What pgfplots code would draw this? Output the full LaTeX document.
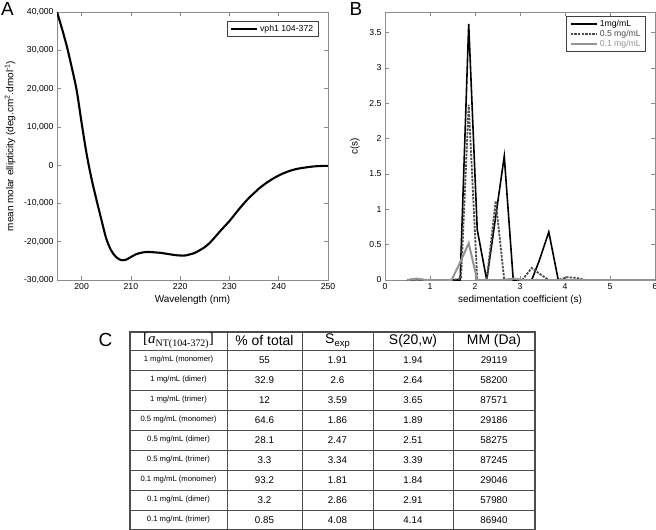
\documentclass[border=0pt]{standalone}
\usepackage{pgfplots}
\pgfplotsset{compat=1.18}
\usepackage{fontspec}
\setmainfont{Liberation Sans}
\newfontfamily\serif{Liberation Serif}

\definecolor{framegray}{gray}{0.55}
\definecolor{darkdash}{gray}{0.3}
\definecolor{lightline}{gray}{0.58}
\definecolor{tabline}{gray}{0.3}

\pgfplotsset{
  myaxis/.style={
    scale only axis, anchor=south west,
    axis line style={framegray, line width=0.7pt},
    every tick/.style={framegray, line width=0.7pt},
    major tick length=4bp,
    tick align=inside,
    ticklabel style={font=\fontsize{8.7}{10}\selectfont},
    label style={font=\fontsize{10}{12}\selectfont},
    /pgf/number format/assume math mode=true,
    legend cell align=left,
    legend style={font=\fontsize{8.7}{10}\selectfont, draw=black!75, line width=0.7pt,
      inner xsep=3bp, inner ysep=1.5bp, row sep=-1.5bp},
    legend image code/.code={\draw[##1] (0bp,0bp) -- (26bp,0bp);},
  }
}

\begin{document}
\begin{tikzpicture}
\path[use as bounding box] (0,0) rectangle (656bp,-530bp);

% ---------------- Panel A ----------------
\begin{axis}[myaxis,
  at={(57bp,-280bp)}, width=271bp, height=268bp,
  xmin=195, xmax=250, ymin=-30000, ymax=40000,
  xtick={200,210,220,230,240,250},
  ytick={-30000,-20000,-10000,0,10000,20000,30000,40000},
  scaled y ticks=false,
  yticklabel style={/pgf/number format/.cd, fixed, 1000 sep={,}},
  xlabel={Wavelength (nm)},
  ylabel={mean molar ellipticity (deg.cm\textsuperscript{2}.dmol\textsuperscript{-1})},
  xlabel style={at={(axis description cs:0.5,-0.075)}, anchor=center},
  ylabel style={at={(axis description cs:-0.173,0.5)}, anchor=center},
  legend style={at={(0.965,0.965)}, anchor=north east},
]
\addplot[black, line width=2.1bp, smooth] table {
x y
195 40000
196 35700
197 31000
198 25500
199 19500
200 11000
201 3000
202 -3500
203 -9000
204 -14200
205 -19200
206 -22300
207 -24000
208 -24800
209 -24700
210 -24000
211 -23300
212 -22900
213 -22700
214 -22700
215 -22800
216 -22900
217 -23100
218 -23300
219 -23500
220 -23600
221 -23600
222 -23300
223 -22900
224 -22200
225 -21400
226 -20300
227 -18900
228 -17400
229 -16000
230 -14600
231 -13000
232 -11400
233 -9900
234 -8500
235 -7300
236 -6100
237 -5100
238 -4200
239 -3400
240 -2700
241 -2100
242 -1600
243 -1200
244 -900
245 -700
246 -500
247 -350
248 -250
249 -200
250 -200
};
\addlegendentry{vph1 104-372}
\end{axis}

% ---------------- Panel B ----------------
\begin{axis}[myaxis,
  at={(385bp,-280bp)}, width=270bp, height=268bp,
  xmin=0, xmax=6, ymin=0, ymax=3.79,
  xtick={0,1,2,3,4,5,6},
  ytick={0,0.5,1,1.5,2,2.5,3,3.5},
  xlabel={sedimentation coefficient (s)},
  ylabel={c(s)},
  xlabel style={at={(axis description cs:0.5,-0.075)}, anchor=center},
  ylabel style={at={(axis description cs:-0.111,0.5)}, anchor=center},
  legend style={at={(0.967,0.985)}, anchor=north east},
]
\addplot[black, line width=1.6bp] table {
x y
0.5 0
0.7 0.01
0.9 0
1.48 0
1.67 0
1.86 3.62
2.05 0.71
2.26 0
2.65 1.75
2.85 0
3.05 0
3.26 0
3.42 0.26
3.64 0.68
3.85 0
4.05 0
6 0
};
\addlegendentry{1mg/mL}
\addplot[darkdash, line width=1.8bp, dash pattern=on 2.4bp off 1.2bp] table {
x y
0.5 0
0.7 0.01
0.9 0
1.48 0
1.69 0.02
1.86 2.48
2.05 0
2.26 0
2.46 1.12
2.65 0
2.85 0.02
3.05 0
3.26 0.17
3.43 0.09
3.64 0
3.85 0
4.05 0.04
4.25 0.03
4.45 0
6 0
};
\addlegendentry{\textcolor{darkdash}{0.5 mg/mL}}
\addplot[lightline, line width=2bp] table {
x y
0.5 0
0.7 0.02
0.9 0
1.48 0
1.67 0.25
1.86 0.52
2.05 0
2.65 0
2.85 0.02
3.05 0
6 0
};
\addlegendentry{\textcolor{lightline}{0.1 mg/mL}}
\end{axis}

% ---------------- Panel letters and table C ----------------
\begin{scope}[x=1bp, y=-1bp]
\node[font=\fontsize{19}{20}\selectfont] at (7.5,8.5) {A};
\node[font=\fontsize{19}{20}\selectfont] at (356,8.5) {B};
\node[font=\fontsize{19}{20}\selectfont] at (105.5,339.5) {C};

% grid
\foreach \yy in {350,370,...,510} {
  \draw[tabline, line width=1bp] (130,\yy) -- (535,\yy);
}
\foreach \xx in {227,302,373,453} {
  \draw[tabline, line width=1bp] (\xx,332) -- (\xx,529.5);
}
\draw[tabline, line width=1.1bp] (130,332) rectangle (535,529.5);

% header
\node[font=\serif\fontsize{15}{16}\selectfont, inner sep=0pt] at (178.5,341)
  {[\textit{a}\raisebox{-2.5bp}{\fontsize{10}{11}\selectfont NT(104-372)}]};
\node[font=\fontsize{14}{15}\selectfont, inner sep=0pt] at (264.5,341) {\% of total};
\node[font=\fontsize{14}{15}\selectfont, inner sep=0pt] at (337.5,341)
  {S\raisebox{-3bp}{\fontsize{9.5}{10}\selectfont exp}};
\node[font=\fontsize{14}{15}\selectfont, inner sep=0pt] at (413,341) {S(20,w)};
\node[font=\fontsize{14}{15}\selectfont, inner sep=0pt] at (494,341) {MM (Da)};

% rows
\foreach \lab/\pc/\se/\sw/\mm [count=\i] in {
  {1 mg/mL (monomer)}/55/1.91/1.94/29119,
  {1 mg/mL (dimer)}/32.9/2.6/2.64/58200,
  {1 mg/mL (trimer)}/12/3.59/3.65/87571,
  {0.5 mg/mL (monomer)}/64.6/1.86/1.89/29186,
  {0.5 mg/mL (dimer)}/28.1/2.47/2.51/58275,
  {0.5 mg/mL (trimer)}/3.3/3.34/3.39/87245,
  {0.1 mg/mL (monomer)}/93.2/1.81/1.84/29046,
  {0.1 mg/mL (dimer)}/3.2/2.86/2.91/57980,
  {0.1 mg/mL (trimer)}/0.85/4.08/4.14/86940} {
  \pgfmathsetmacro{\yc}{340+20*\i}
  \node[font=\fontsize{7.7}{9}\selectfont, inner sep=0pt] at (178.5,\yc) {\lab};
  \node[font=\fontsize{9.8}{11}\selectfont, inner sep=0pt] at (264.5,\yc) {\pc};
  \node[font=\fontsize{9.8}{11}\selectfont, inner sep=0pt] at (337.5,\yc) {\se};
  \node[font=\fontsize{9.8}{11}\selectfont, inner sep=0pt] at (413,\yc) {\sw};
  \node[font=\fontsize{9.8}{11}\selectfont, inner sep=0pt] at (494,\yc) {\mm};
}
\end{scope}
\end{tikzpicture}
\end{document}
